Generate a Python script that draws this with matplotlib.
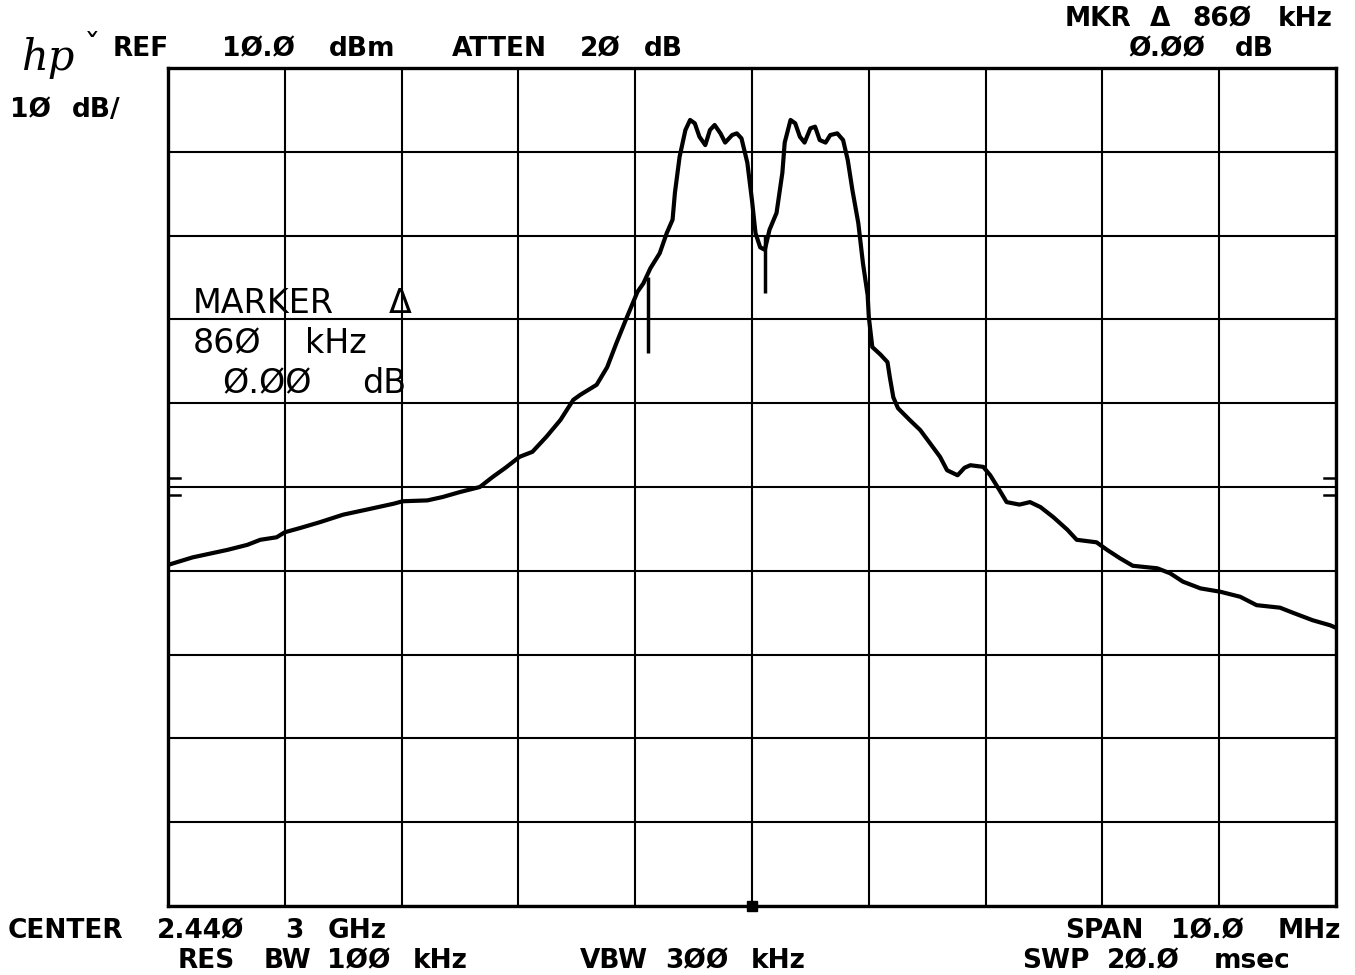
import numpy as np
import matplotlib
matplotlib.use("Agg")
import matplotlib.pyplot as plt

# trace: offset from centre (MHz) and level (dBm)
freq_mhz = [-5.00, -4.79, -4.49, -4.32, -4.21, -4.07, -4.00, -3.87, -3.70, -3.50,
            -3.30, -3.07, -2.99, -2.78, -2.65, -2.50, -2.33, -2.22, -2.11, -1.99,
            -1.88, -1.76, -1.64, -1.53, -1.47, -1.33, -1.24, -1.16, -1.07, -0.98,
            -0.93, -0.87, -0.79, -0.73, -0.68, -0.66, -0.62, -0.57, -0.53, -0.49,
            -0.45, -0.40, -0.36, -0.32, -0.27, -0.23, -0.17, -0.13, -0.09, -0.04,
            0.00, 0.03, 0.07, 0.11, 0.15, 0.21, 0.26, 0.28, 0.33, 0.37,
            0.41, 0.45, 0.50, 0.54, 0.58, 0.63, 0.67, 0.73, 0.78, 0.82,
            0.86, 0.91, 0.95, 0.99, 1.00, 1.03, 1.10, 1.16, 1.18, 1.21,
            1.25, 1.35, 1.44, 1.52, 1.61, 1.67, 1.76, 1.82, 1.87, 1.98,
            2.04, 2.12, 2.18, 2.29, 2.38, 2.47, 2.58, 2.70, 2.78, 2.95,
            3.04, 3.15, 3.26, 3.47, 3.58, 3.69, 3.84, 4.01, 4.18, 4.32,
            4.52, 4.63, 4.80, 4.95, 5.00]
level_dbm = [-49.3, -48.4, -47.5, -46.9, -46.3, -46.0, -45.4, -44.9, -44.2, -43.3,
             -42.7, -42.0, -41.7, -41.6, -41.2, -40.6, -40.0, -38.8, -37.7, -36.4,
             -35.8, -34.0, -32.0, -29.6, -29.0, -27.8, -25.7, -22.8, -19.7, -16.7,
             -15.7, -13.9, -12.1, -9.7, -8.1, -4.9, -0.6, 2.6, 3.8, 3.4,
             1.8, 0.8, 2.6, 3.2, 2.2, 1.1, 2.0, 2.2, 1.6, -1.3,
             -5.8, -9.7, -11.4, -11.7, -9.3, -7.3, -2.5, 1.1, 3.8, 3.4,
             1.8, 1.1, 2.8, 3.0, 1.4, 1.1, 2.0, 2.2, 1.4, -1.0,
             -4.6, -8.5, -13.3, -17.1, -19.7, -23.3, -24.2, -25.1, -26.9, -29.3,
             -30.6, -32.0, -33.2, -34.7, -36.4, -38.0, -38.6, -37.7, -37.4, -37.6,
             -38.6, -40.4, -41.8, -42.1, -41.8, -42.4, -43.6, -45.1, -46.3, -46.6,
             -47.5, -48.5, -49.4, -49.7, -50.3, -51.3, -52.1, -52.5, -53.1, -54.1,
             -54.4, -55.0, -55.9, -56.5, -56.8]

# the two delta markers (short vertical strokes under the trace)
marker_f = [-0.89, 0.11]
marker_top = [-14.9, -9.9]
marker_bot = [-24.0, -16.8]

ref_level = 10.0
db_per_div = 10.0
span_mhz = 10.0

W, H = 1355, 975
fig = plt.figure(figsize=(W / 100, H / 100), dpi=100)
fig.patch.set_facecolor("white")
ax = fig.add_axes([168 / W, 1 - 906 / H, 1168 / W, 838 / H])

ax.set_xlim(-span_mhz / 2, span_mhz / 2)
ax.set_ylim(ref_level - 10 * db_per_div, ref_level)
ax.set_xticks(np.arange(-5, 6, 1))
ax.set_yticks(np.arange(-90, 11, 10))
ax.tick_params(length=0, labelbottom=False, labelleft=False)
ax.grid(True, color="black", lw=1.5)
for sp in ax.spines.values():
    sp.set_linewidth(2.4)

ax.plot(freq_mhz, level_dbm, color="black", lw=3.0, solid_joinstyle="round")
ax.vlines(marker_f, marker_bot, marker_top, color="black", lw=2.5)
ax.plot([0], [ref_level - 10 * db_per_div], "s", color="black", ms=7, clip_on=False)

# little level indicators on both edges
for yv in (-38.9, -41.0):
    ax.plot([-5, -4.9], [yv, yv], color="black", lw=1.8)
    ax.plot([4.9, 5], [yv, yv], color="black", lw=1.8)


def put(s, x0, yb, pitch, **kw):
    # place word by word on the plotter's fixed character pitch
    pos = 0
    for w in s.split(" "):
        if w:
            fig.text((x0 + pos * pitch) / W, 1 - yb / H, w, ha="left", va="baseline", **kw)
        pos += len(w) + 1


hdr = dict(fontsize=19, fontweight="bold", family="DejaVu Sans", color="black")
put("REF", 113, 56, 21.3, **hdr)
put("1Ø.Ø dBm", 222, 56, 21.3, **hdr)
put("ATTEN 2Ø dB", 452, 56, 21.3, **hdr)
put("MKR Δ 86Ø kHz", 1065, 26, 21.3, **hdr)
put("Ø.ØØ dB", 1128, 56, 21.3, **hdr)
put("1Ø dB/", 10, 117, 20.6, **hdr)
put("CENTER 2.44Ø 3 GHz", 8, 938, 21.3, **hdr)
put("SPAN 1Ø.Ø MHz", 1065, 938, 21.3, **hdr)
put("RES BW 1ØØ kHz", 178, 968, 21.3, **hdr)
put("VBW 3ØØ kHz", 580, 968, 21.3, **hdr)
put("SWP 2Ø.Ø msec", 1022, 968, 21.3, **hdr)

mk = dict(fontsize=24, family="DejaVu Sans", color="black")
put("MARKER Δ", 193, 313, 28, **mk)
put("86Ø kHz", 193, 353, 28, **mk)
put("Ø.ØØ dB", 222, 393, 28, **mk)

fig.text(22 / W, 1 - 70 / H, "hp", fontsize=30, style="italic", family="DejaVu Serif",
         color="black", va="baseline")
fig.text(84 / W, 1 - 58 / H, "ˇ", fontsize=24, color="black", va="baseline")

fig.savefig("out.png", dpi=100, facecolor="white")
